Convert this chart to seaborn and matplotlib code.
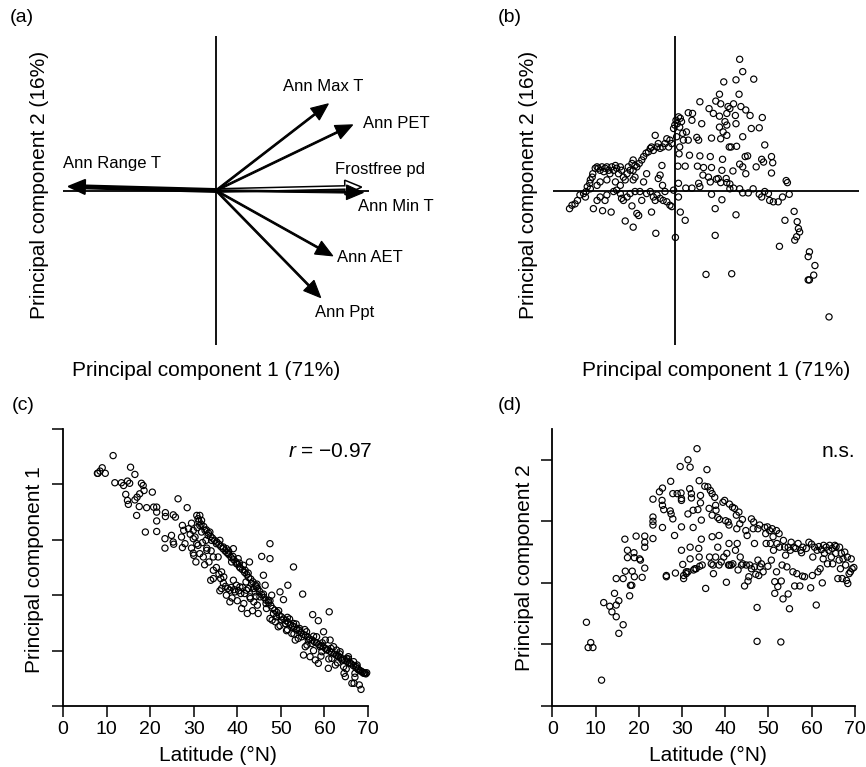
import matplotlib
matplotlib.use("Agg")
import matplotlib.pyplot as plt
import seaborn as sns
import numpy as np

sns.set_style("ticks")
plt.rcParams['font.family'] = ['Liberation Sans', 'DejaVu Sans']
plt.rcParams['mathtext.fontset'] = 'custom'
plt.rcParams['mathtext.it'] = 'Liberation Sans:italic'
plt.rcParams['mathtext.rm'] = 'Liberation Sans'
plt.rcParams['text.color'] = 'black'
plt.rcParams['axes.labelcolor'] = 'black'
plt.rcParams['xtick.color'] = 'black'
plt.rcParams['ytick.color'] = 'black'

# ---------------- (a) loadings ----------------
var_names = ["Ann Max T", "Ann PET", "Frostfree pd", "Ann Min T", "Ann AET", "Ann Ppt", "Ann Range T"]
load_pc1 = [0.734, 0.893, 0.952, 0.963, 0.763, 0.684, -0.965]
load_pc2 = [0.561, 0.425, 0.022, -0.013, -0.423, -0.693, 0.026]
head_fill = ["black", "black", "white", "black", "black", "black", "black"]
hollow_shaft = [False, False, True, False, False, False, True]
label_x = [0.438, 0.959, 0.778, 0.928, 0.791, 0.647, -1.002]
label_y = [0.671, 0.432, 0.134, -0.104, -0.436, -0.792, 0.173]

# ---------------- (b) PC1 vs PC2 scores ----------------
b_pc1 = [1.05, 1.10, 1.28, 0.99, 0.79, 0.72, 1.04, 0.40, 0.66, 0.74, 0.86, 0.89, 0.95, 1.07, 1.15,
         0.55, 0.62, 0.72, 0.84, 0.98, 1.22, 1.42, 0.21, 0.28, 0.27, 0.43, 0.72, 0.81, 0.84, 0.99,
         1.37, 1.24, 0.78, 0.84, 1.10, 0.18, 0.12, 0.35, 0.13, 0.21, 0.59, 0.74, 0.38, 0.88, 0.91,
         1.00, 1.46, 0.07, 0.06, 0.23, 0.40, 0.57, 0.77, 1.14, 1.18, 1.41, 1.44, 1.57, 1.59, 1.05,
         1.10, 1.32, 1.57, -0.22, 0.04, 0.16, 0.36, 0.46, 0.59, 0.76, 0.94, 1.15, 0.45, 0.54, 0.67,
         0.70, 0.83, -0.28, 0.05, 0.17, 0.27, 0.38, 0.40, 0.57, 0.74, 0.84, 0.89, 1.81, 1.83, 0.89,
         0.95, 1.05, 1.10, 1.19, 1.27, 1.37, 1.41, 1.46, 1.52, 1.54, 1.60, 1.68, 1.75, 1.86, 0.59,
         0.76, 0.65, 0.99, 1.94, 1.79, 1.99, 2.01, 2.03, 1.98, 1.95, 1.70, 0.65, 2.19, 2.17, 2.28,
         2.26, 2.17, 2.19, 0.50, 0.92, 2.51, 0.00, 0.08, 0.16, -0.32,
         -1.73, -1.69, -1.64, -1.60, -1.56, -1.50, -1.46, -1.44, -1.40, -1.39, -1.36, -1.35, -1.31,
         -1.28, -1.26, -1.23, -1.20, -1.17, -1.15, -1.12, -1.09, -1.07, -1.04, -1.01, -0.98, -0.96,
         -0.93, -0.90, -0.88, -0.85, -0.82, -0.79, -0.77, -0.74, -0.71, -0.69, -0.66, -0.63, -0.59,
         -0.55, -0.52, -0.48, -0.44, -0.41, -0.39, -0.36, -0.33, -0.30, -0.28, -0.25, -0.21, -0.17,
         -0.14, -0.11, -0.09, -0.06, -0.03, -0.01, 0.01, 0.03, 0.05, 0.08, 0.10, 0.07, 0.02,
         -1.47, -1.39, -1.34, -1.28, -1.23, -1.19, -1.15, -1.12, -1.05, -1.01, -0.96, -0.90, -0.88,
         -0.85, -0.82, -0.79, -0.74, -0.71, -0.69, -0.66, -0.63, -0.60, -0.58, -0.55, -0.52, -0.47,
         -0.41, -0.39, -0.36, -0.33, -0.30, -0.25, -0.21, -0.20, -0.17, -0.14, -0.09, -0.06, -0.03,
         0.05, -0.90, -0.98, -1.12, -1.23, -1.28, -0.69, -0.66, -0.47, -0.25, -0.69]
b_pc2 = [1.92, 1.74, 1.63, 1.62, 1.59, 1.41, 1.41, 1.30, 1.31, 1.27, 1.23, 1.20, 1.27, 1.23, 1.18,
         1.20, 1.13, 1.09, 1.13, 1.10, 1.10, 1.07, 1.14, 1.13, 1.03, 0.98, 0.93, 1.01, 0.96, 0.98,
         0.92, 0.91, 0.86, 0.81, 0.79, 0.86, 0.84, 0.78, 0.74, 0.74, 0.77, 0.76, 0.74, 0.64, 0.64,
         0.65, 0.67, 0.64, 0.54, 0.52, 0.51, 0.50, 0.46, 0.50, 0.51, 0.46, 0.42, 0.50, 0.41, 0.39,
         0.35, 0.35, 0.26, 0.37, 0.36, 0.36, 0.36, 0.34, 0.34, 0.30, 0.29, 0.25, 0.23, 0.20, 0.17,
         0.18, 0.18, 0.18, 0.11, 0.04, 0.04, 0.11, 0.06, 0.13, 0.12, 0.12, 0.10, 0.15, 0.12, 0.03,
         0.04, 0.03, -0.03, -0.03, 0.03, -0.05, -0.09, -0.01, -0.04, -0.14, -0.16, -0.16, -0.09, -0.05, -0.05,
         -0.13, -0.26, -0.35, -0.30, -0.43, -0.45, -0.55, -0.60, -0.67, -0.72, -0.81, -0.65, -0.89, -0.96, -1.09,
         -1.23, -1.30, -1.30, -1.22, -1.21, -1.84, -0.68, -0.31, -0.43, -0.62,
         -0.26, -0.21, -0.19, -0.14, -0.06, -0.04, -0.01, 0.06, 0.11, 0.16, 0.20, 0.25, 0.33,
         0.35, 0.33, 0.30, 0.35, 0.28, 0.33, 0.35, 0.30, 0.25, 0.35, 0.30, 0.37, 0.33,
         0.25, 0.35, 0.30, 0.20, 0.16, 0.25, 0.35, 0.30, 0.40, 0.45, 0.37, 0.35, 0.40,
         0.45, 0.50, 0.55, 0.57, 0.62, 0.64, 0.59, 0.81, 0.64, 0.69, 0.62, 0.64, 0.69,
         0.76, 0.64, 0.74, 0.69, 0.91, 0.96, 1.03, 0.98, 1.08, 1.06, 1.01, 0.93, 0.79,
         -0.09, 0.03, -0.26, -0.14, -0.09, -0.29, -0.14, -0.06, -0.31, -0.01, 0.01, -0.04, -0.11,
         -0.14, -0.44, -0.09, -0.04, -0.22, -0.53, -0.01, -0.33, -0.36, -0.01, -0.14, 0.13, -0.04,
         -0.01, -0.31, -0.09, -0.14, -0.06, -0.11, 0.08, -0.14, -0.01, -0.16, -0.21, -0.23, 0.01,
         -0.09, 0.08, 0.13, 0.16, 0.13, 0.08, 0.16, 0.20, 0.25, 0.23, 0.30]

# ---------------- (c) latitude vs PC1 ----------------
c_lat = [7.9, 8.5, 9.0, 9.7, 8.0, 11.5, 11.9, 13.4, 13.9, 14.8, 15.3, 15.5, 16.5, 14.4, 14.8, 15.0,
         16.5, 17.0, 17.6, 18.0, 18.4, 18.6, 17.5, 16.9, 19.2, 20.5, 20.8, 21.5, 21.5, 18.9, 21.5,
         21.5, 23.5, 23.5, 23.4, 23.4, 25.3, 25.8, 24.9, 25.3, 25.4, 26.4, 27.4, 27.2, 27.7, 27.4,
         28.0, 28.5, 29.5, 29.9, 29.9, 29.9, 30.0, 30.7, 31.0, 31.4, 31.8, 31.4, 30.7, 31.4, 32.2,
         31.8, 32.6, 32.8, 33.0, 33.3, 33.7, 34.1, 34.5, 34.5, 33.9, 34.5, 35.2, 35.6, 36.0, 36.4,
         36.4, 36.8, 36.9, 37.5, 37.9, 38.3, 38.7, 39.1, 38.3, 39.1, 39.5, 39.8, 40.2, 40.5, 40.6,
         40.8, 41.0, 41.4, 41.8, 42.0, 42.1, 42.3, 42.8, 42.9, 43.3, 43.7, 44.1, 44.4, 44.6, 44.8,
         45.2, 45.6, 46.0, 46.4, 46.6, 46.7, 47.1, 47.5, 47.5, 47.9, 47.5, 48.3, 48.7, 49.0, 49.4,
         49.8, 50.2, 50.6, 51.0, 51.3, 51.6, 52.0, 52.5, 52.9, 52.9, 53.3, 53.6, 54.3, 54.8, 55.0,
         55.2, 55.6, 55.9, 56.3, 56.7, 57.1, 57.3, 57.9, 58.2, 58.6, 58.6, 59.0, 59.4, 59.8, 60.2,
         60.5, 60.9, 61.1, 61.3, 61.7, 62.1, 62.5, 62.8, 63.2, 63.6, 64.0, 64.4, 64.5, 64.8, 65.1,
         65.5, 65.9, 66.3, 66.7, 66.8, 67.0, 67.4, 67.8, 68.0, 68.4, 68.6, 69.0, 69.3, 69.7,
         31.2, 31.7, 32.3, 32.9, 33.4, 33.9, 34.3, 34.8, 35.3, 35.8, 36.2, 36.7, 37.2, 37.6, 38.1,
         38.6, 39.2, 39.7, 40.1, 40.7, 41.2, 41.7, 42.2, 42.6, 43.1, 43.6, 44.2, 44.7, 45.1, 45.6,
         46.1, 46.6, 47.2, 47.7, 48.1, 48.6, 49.1, 49.6, 50.1, 50.7, 51.2, 51.7, 52.2, 52.7, 53.1,
         53.7, 54.2, 54.6, 55.2, 55.7, 56.1, 56.6, 57.2, 57.7, 58.2, 58.7, 59.2, 59.7, 60.2, 60.7,
         61.2, 61.6, 62.2, 62.7, 63.1, 63.7, 64.2, 64.6, 65.2, 65.7, 66.2, 66.6, 67.2, 67.7, 68.2,
         68.7, 69.2, 69.5,
         38.0, 39.0, 40.5, 42.5, 44.5, 46.0, 47.5, 49.5, 51.5, 53.5, 55.5, 57.5, 59.5, 61.5, 63.5,
         65.5, 67.5,
         48.0, 49.8, 51.5, 53.0, 54.0, 56.0, 57.5, 59.2, 61.0, 63.0, 65.0, 67.0,
         35.2, 35.8, 36.2, 36.8, 37.3, 37.8, 38.6, 39.3, 39.8, 40.3, 41.2, 41.7, 42.6, 43.0, 43.8,
         44.3, 36.0, 37.5, 38.8, 40.0, 41.5, 43.5,
         28.8, 29.2, 30.3, 30.8, 31.0, 32.0, 33.0, 34.0, 29.5, 30.5, 32.5, 33.5]
c_pc1 = [2.20, 2.24, 2.30, 2.20, 2.20, 2.52, 2.03, 2.03, 1.98, 2.06, 2.02, 2.31, 2.18, 1.82, 1.71, 1.64,
         1.72, 1.77, 1.83, 2.02, 1.98, 1.89, 1.60, 1.44, 1.58, 1.86, 1.59, 1.59, 1.50, 1.14, 1.34,
         1.15, 1.49, 1.42, 1.02, 0.85, 1.45, 1.41, 1.08, 0.96, 0.92, 1.74, 1.26, 1.05, 1.17, 0.86,
         0.93, 1.58, 1.30, 1.17, 1.02, 0.76, 0.72, 1.44, 1.38, 1.26, 1.14, 1.44, 0.93, 0.75, 0.69,
         1.35, 1.17, 0.99, 0.81, 1.08, 1.14, 0.99, 0.69, 0.45, 0.27, 0.30, 0.93, 0.69, 0.99, 0.42,
         0.12, 0.87, 0.33, 0.84, 0.75, 0.09, 0.60, 0.84, -0.12, 0.27, 0.06, 0.57, 0.66, 0.51, 0.15,
         0.03, -0.24, 0.54, 0.45, 0.24, 0.09, -0.33, 0.60, -0.03, 0.21, 0.12, 0.06, 0.15, -0.18, -0.33,
         -0.03, 0.70, 0.36, 0.18, -0.15, -0.24, -0.09, 0.93, 0.66, 0.00, -0.42, -0.33, -0.48, -0.39, -0.57,
         0.06, -0.45, -0.08, -0.51, -0.64, 0.18, -0.43, -0.69, 0.51, -0.51, -0.81, -0.63, -0.60, -0.75, 0.02,
         -1.08, -0.93, -0.66, -0.81, -1.11, -0.87, -0.35, -1.17, -0.75, -0.46, -1.23, -0.93, -1.02, -0.66, -0.81,
         -0.99, -1.32, -0.30, -0.81, -1.14, -0.93, -1.26, -0.99, -1.11, -1.02, -1.17, -1.29, -1.41, -1.47, -1.14,
         -1.11, -1.23, -1.59, -1.20, -1.59, -1.41, -1.29, -1.35, -1.62, -1.70, -1.38, -1.41, -1.41, -1.40,
         1.33, 1.28, 1.24, 1.18, 1.12, 1.06, 1.03, 0.99, 0.96, 0.92, 0.88, 0.84, 0.80, 0.77, 0.73,
         0.68, 0.64, 0.60, 0.56, 0.49, 0.46, 0.41, 0.37, 0.32, 0.29, 0.24, 0.18, 0.12, 0.07, 0.01,
         -0.04, -0.09, -0.13, -0.19, -0.24, -0.27, -0.31, -0.36, -0.39, -0.43, -0.46, -0.49, -0.53, -0.56, -0.57,
         -0.61, -0.63, -0.67, -0.71, -0.73, -0.75, -0.79, -0.81, -0.84, -0.86, -0.89, -0.91, -0.93, -0.96, -0.98,
         -1.01, -1.03, -1.06, -1.08, -1.09, -1.13, -1.15, -1.17, -1.19, -1.22, -1.24, -1.27, -1.31, -1.33, -1.36,
         -1.39, -1.40, -1.42,
         0.80, 0.70, 0.58, 0.40, 0.20, 0.02, -0.10, -0.28, -0.40, -0.52, -0.62, -0.74, -0.86, -0.96, -1.06,
         -1.15, -1.26,
         -0.45, -0.55, -0.62, -0.70, -0.78, -0.90, -1.00, -1.10, -1.15, -1.22, -1.33, -1.48,
         0.50, 0.38, 0.30, 0.22, 0.16, 0.12, 0.14, 0.10, 0.18, 0.08, 0.14, 0.03, 0.12, -0.06, -0.12,
         -0.02, 0.08, 0.00, -0.05, -0.10, -0.15, -0.28,
         1.20, 1.10, 1.05, 1.22, 0.90, 0.95, 0.85, 0.80, 0.85, 0.60, 0.55, 0.60]

# ---------------- (d) latitude vs PC2 ----------------
d_lat = [7.9, 8.3, 8.9, 9.4, 11.4, 11.9, 13.3, 13.8, 14.4, 14.8, 14.8, 14.8, 15.4, 15.4, 16.4, 16.4,
         16.8, 16.9, 17.4, 17.4, 17.9, 18.1, 18.4, 18.5, 18.9, 19.0, 19.0, 19.4, 20.2, 20.4, 20.8,
         21.4, 21.4, 21.4, 21.4, 23.3, 23.3, 23.3, 23.3, 23.3, 24.8, 25.5, 25.4, 25.5, 25.5, 25.8,
         26.4, 26.4, 27.4, 27.3, 27.5, 27.9, 27.9, 28.3, 28.5, 28.9, 29.6, 29.8, 29.9, 29.9, 29.9,
         29.9, 30.2, 30.4, 30.4, 31.0, 31.0, 31.4, 31.4, 31.4, 31.8, 31.9, 31.9, 31.9, 32.2, 32.2,
         32.6, 32.6, 32.7, 33.0, 33.3, 33.5, 33.7, 33.9, 34.0, 34.0, 34.1, 34.3, 34.3, 34.5, 34.5,
         34.7, 35.3, 35.5, 35.8, 36.0, 36.3, 36.4, 36.6, 36.8, 37.0, 37.0, 37.0, 37.2, 37.3, 37.6,
         37.8, 37.8, 37.9, 38.3, 38.3, 38.6, 38.6, 38.7, 39.1, 39.5, 39.7, 39.9, 40.1, 40.3, 40.4,
         40.7, 40.8, 40.9, 40.9, 41.0, 41.0, 41.4, 41.7, 41.8, 42.2, 42.4, 42.6, 42.7, 42.8, 43.0,
         43.2, 43.4, 43.5, 43.8, 44.0, 44.1, 44.5, 44.8, 44.9, 45.1, 45.3, 45.5, 45.7, 46.1, 46.1,
         46.5, 46.6, 46.8, 46.8, 47.1, 47.4, 47.4, 47.6, 47.6, 47.8, 48.0, 48.1, 48.4, 48.8, 49.2,
         49.4, 49.5, 49.8, 49.9, 50.3, 50.5, 50.7, 50.9, 51.1, 51.2, 51.5, 51.5, 51.9, 51.9, 52.0,
         52.2, 52.5, 52.6, 52.9, 53.0, 53.2, 53.4, 53.5, 53.8, 54.0, 54.3, 54.6, 54.6, 54.9, 55.1,
         55.3, 55.7, 55.9, 56.1, 56.3, 56.6, 56.9, 57.3, 57.5, 57.7, 57.9, 58.0, 58.4, 58.8, 59.4,
         59.8, 60.0, 60.2, 60.3, 60.7, 61.1, 61.3, 61.5, 61.7, 62.0, 62.3, 62.5, 62.7, 62.8, 63.0,
         63.4, 63.7, 64.0, 64.2, 64.6, 64.8, 64.9, 65.4, 65.6, 65.7, 66.1, 66.4, 66.5, 66.7, 66.9,
         67.1, 67.3, 67.7, 67.9, 68.1, 68.3, 68.4, 68.7, 69.0, 69.2, 69.4, 69.8]
d_pc2 = [-0.64, -1.05, -0.97, -1.05, -1.58, -0.32, -0.38, -0.47, -0.17, -0.36, -0.55, 0.07, -0.29, -0.82, 0.07, -0.68,
         0.71, 0.19, 0.53, 0.41, -0.21, -0.04, -0.04, 0.19, 0.49, 0.41, 0.10, 0.76, 0.39, 0.37, 0.09,
         0.24, 0.76, 0.66, 0.58, 1.36, 1.07, 1.00, 0.94, 0.72, 1.48, 1.54, 1.34, 1.26, 0.90, 1.19,
         0.12, 0.10, 1.65, 1.17, 1.12, 1.45, 1.04, 0.77, 0.16, 1.45, 1.89, 1.46, 1.37, 1.34, 0.91,
         0.53, 0.30, 0.12, 0.07, 0.15, 0.18, 2.00, 0.18, 1.12, 1.53, 1.88, 0.58, 0.39, 1.45, 1.38,
         1.18, 0.90, 0.21, 0.23, 0.23, 2.18, 1.19, 0.56, 0.42, 1.66, 0.27, 1.42, 1.30, 1.02, 0.71,
         0.29, 1.57, -0.09, 1.84, 1.56, 1.21, 0.42, 1.50, 0.31, 1.10, 0.75, 1.45, 0.29, 0.15, 1.39,
         1.26, 0.42, 1.18, 1.06, 0.58, 0.77, 0.29, 1.03, 0.34, 1.31, 0.42, 1.34, 1.01, 0.01, 0.48,
         0.99, 0.29, 0.94, 0.64, 1.28, 0.29, 0.29, 1.23, 0.31, 1.21, 0.53, 1.10, 0.88, 0.64, 0.21,
         1.15, 0.96, 0.42, 0.29, 1.03, 0.31, -0.05, 0.85, 0.29, 0.77, 0.03, 0.10, 0.29, 1.04, 0.23,
         0.88, 0.99, 0.64, 0.26, 0.14, -0.40, -0.95, 0.88, 0.37, 0.12, 0.94, 0.26, 0.31, 0.18, 0.90,
         0.80, 0.64, 0.91, 0.27, 0.85, 0.64, 0.37, 0.88, 0.75, 0.53, 0.02, -0.17, 0.85, 0.18, 0.64,
         -0.06, 0.80, 0.58, -0.96, 0.03, 0.29, -0.26, 0.69, 0.58, 0.45, 0.26, -0.18, 0.58, -0.42, 0.53,
         0.66, 0.18, 0.58, -0.05, 0.56, 0.15, 0.64, -0.05, 0.53, 0.49, 0.11, 0.58, 0.10, 0.56, 0.66,
         -0.08, 0.63, 0.12, 0.42, 0.58, -0.36, 0.53, 0.18, 0.59, 0.23, 0.54, 0.00, 0.39, 0.61, 0.48,
         0.58, 0.31, 0.53, 0.61, 0.42, 0.56, 0.31, 0.61, 0.48, 0.59, 0.07, 0.37, 0.58, 0.23, 0.48,
         0.07, 0.39, 0.50, 0.29, 0.04, 0.42, -0.01, 0.15, 0.18, 0.39, 0.23, 0.25]

W, H = 866, 767
fig = plt.figure(figsize=(W / 100, H / 100), dpi=100)

def frac_box(x0, y0, x1, y1):
    return [x0 / W, 1 - y1 / H, (x1 - x0) / W, (y1 - y0) / H]

ax_a = fig.add_axes(frac_box(63, 36, 369, 345))
ax_b = fig.add_axes(frac_box(553, 36, 859, 345))
ax_c = fig.add_axes(frac_box(63, 429, 368, 706))
ax_d = fig.add_axes(frac_box(552.3, 429, 854.7, 706))

scatter_kw = dict(marker='o', s=20, facecolor='none', edgecolor='black', linewidth=0.85, legend=False)

# ---- (a)
ax_a.set_xlim(-1, 1)
ax_a.set_ylim(-1, 1)
ax_a.axis('off')
ax_a.axhline(0, color='black', lw=1.3)
ax_a.axvline(0, color='black', lw=1.3)
for name, dx, dy, fill, hol, tx, ty in zip(var_names, load_pc1, load_pc2, head_fill, hollow_shaft, label_x, label_y):
    if hol:
        ax_a.arrow(0, 0, dx, dy, width=0.022, head_width=0.095, head_length=0.11,
                   length_includes_head=True, fc=fill, ec='black', lw=1.1, zorder=3)
    else:
        ax_a.arrow(0, 0, dx, dy, width=0.010, head_width=0.095, head_length=0.11,
                   length_includes_head=True, fc=fill, ec='black', lw=0.8, zorder=4)
    ax_a.text(tx, ty, name, ha='left', va='center', fontsize=12, clip_on=False)

# ---- (b)
sns.scatterplot(x=b_pc1, y=b_pc2, ax=ax_b, **scatter_kw)
ax_b.set_xlim(-2.0, 3.0)
ax_b.set_ylim(-2.25, 2.26)
ax_b.axis('off')
ax_b.axhline(0, color='black', lw=1.3, zorder=0)
ax_b.axvline(0, color='black', lw=1.3, zorder=0)

# ---- (c) and (d)
def lat_axes(ax, ylim, yticks):
    ax.set_xlim(0, 70)
    ax.set_ylim(*ylim)
    ax.set_xticks(range(0, 71, 10))
    ax.set_yticks(yticks)
    ax.tick_params(axis='both', direction='out', length=8, width=1.1, labelsize=14, pad=3,
                   colors='black')
    ax.tick_params(axis='y', labelleft=False)
    for s in ['top', 'right']:
        ax.spines[s].set_visible(False)
    for s in ['left', 'bottom']:
        ax.spines[s].set_linewidth(1.3)
        ax.spines[s].set_color('black')
    ax.set_xlabel('')
    ax.set_ylabel('')

sns.scatterplot(x=c_lat, y=c_pc1, ax=ax_c, clip_on=False, **scatter_kw)
lat_axes(ax_c, (-2, 3), [-2, -1, 0, 1, 2, 3])
ax_c.text(1.016, 0.917, r'$r$ = −0.97', transform=ax_c.transAxes, ha='right', va='center', fontsize=15)

sns.scatterplot(x=d_lat, y=d_pc2, ax=ax_d, clip_on=False, **scatter_kw)
lat_axes(ax_d, (-2, 2.5), [-2, -1, 0, 1, 2])
ax_d.text(1.0, 0.917, 'n.s.', transform=ax_d.transAxes, ha='right', va='center', fontsize=15)

# ---- labels
def ftext(x, y, s, **kw):
    fig.text(x / W, 1 - y / H, s, **kw)

lab = dict(fontsize=15, ha='center', va='center')
ftext(40, 185, 'Principal component 2 (16%)', rotation=90, **lab)
ftext(206, 370, 'Principal component 1 (71%)', **lab)
ftext(528, 185, 'Principal component 2 (16%)', rotation=90, **lab)
ftext(716, 370, 'Principal component 1 (71%)', **lab)
ftext(35, 570, 'Principal component 1', rotation=90, **lab)
ftext(218, 755, 'Latitude (°N)', **lab)
ftext(524, 568, 'Principal component 2', rotation=90, **lab)
ftext(708, 755, 'Latitude (°N)', **lab)

pl = dict(fontsize=14, ha='left', va='center')
ftext(10, 18, '(a)', **pl)
ftext(498, 18, '(b)', **pl)
ftext(12, 405, '(c)', **pl)
ftext(498, 405, '(d)', **pl)

fig.savefig('out.png', dpi=100, facecolor='white')
